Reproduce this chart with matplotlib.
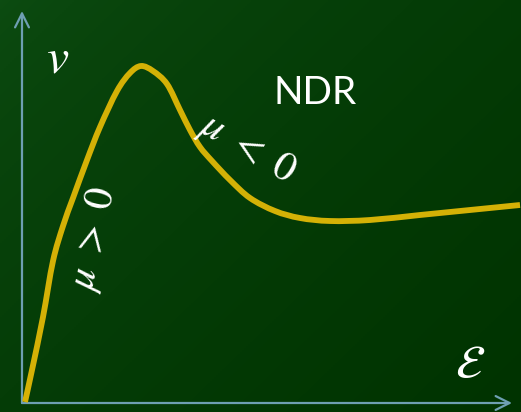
import numpy as np
import matplotlib
matplotlib.use("Agg")
import matplotlib.pyplot as plt
from matplotlib.path import Path
from matplotlib.patches import PathPatch

# Drift velocity v versus electric field E (arbitrary units)
field = [3, 10, 21, 31, 41, 51, 65, 78, 95, 108, 119, 131, 145, 158, 168, 178,
         190, 208, 228, 253, 278, 308, 348, 398, 448, 498]
velocity = [1, 33, 86, 142, 177, 205, 243, 276, 312, 330, 337, 332, 319, 293, 273,
            256, 242, 223, 205, 192, 185, 182, 183, 188, 193, 198]

label_v = r"$v$"
label_e = r"$\mathcal{E}$"
label_ndr = "NDR"
label_pos = r"$\mu\ >\ 0$"
label_neg = r"$\mu\ <\ 0$"

plt.rcParams["mathtext.fontset"] = "stix"

fig = plt.figure(figsize=(5.21, 4.12), dpi=100)
ax = fig.add_axes([0, 0, 1, 1])
ax.set_xlim(-22, 499)
ax.set_ylim(-9, 403)
ax.axis("off")

# diagonal dark-green gradient background
ny, nx = 200, 260
yy, xx = np.mgrid[0:1:ny * 1j, 0:1:nx * 1j]
t = np.clip(0.55 * xx + 0.45 * yy, 0, 1) ** 0.6
c0 = np.array([0.05, 0.30, 0.07])
c1 = np.array([0.0, 0.20, 0.0])
img = c0[None, None, :] * (1 - t[..., None]) + c1[None, None, :] * t[..., None]
ax.imshow(img, extent=[-22, 499, -9, 403], origin="upper", aspect="auto", zorder=0)

axis_col = "#6e9fb2"
arrow = dict(arrowstyle="->,head_length=1.0,head_width=0.5", color=axis_col, lw=1.6,
             shrinkA=0, shrinkB=0)
ax.annotate("", xy=(0, 392), xytext=(0, 0), arrowprops=arrow, zorder=2)
ax.annotate("", xy=(490, 0), xytext=(0, 0), arrowprops=arrow, zorder=2)

# smooth Bezier path through the points (Catmull-Rom style tangents)
P = np.column_stack([field, velocity]).astype(float)
Pext = np.vstack([P[0], P, P[-1]])
verts = [P[0]]
codes = [Path.MOVETO]
for i in range(1, len(Pext) - 2):
    p0, p1, p2, p3 = Pext[i - 1], Pext[i], Pext[i + 1], Pext[i + 2]
    verts += [p1 + (p2 - p0) / 6.0, p2 - (p3 - p1) / 6.0, p2]
    codes += [Path.CURVE4] * 3
ax.add_patch(PathPatch(Path(verts, codes), facecolor="none", edgecolor="#d4b106",
                       lw=4.2, capstyle="butt", joinstyle="round", zorder=3))

ax.text(36, 345, label_v, fontsize=36, color="white", ha="center", va="center",
        zorder=4)
ax.text(293, 310, label_ndr, fontsize=28, family="Lato", color="white",
        ha="center", va="center", zorder=4)
ax.text(225, 255, label_neg, fontsize=30, color="white", ha="center", va="center",
        rotation=-30, rotation_mode="anchor", zorder=4)
ax.text(71, 164, label_pos, fontsize=30, color="white", ha="center", va="center",
        rotation=78, rotation_mode="anchor", zorder=4)
ax.text(448, 38, label_e, fontsize=34, color="white", ha="center", va="center",
        zorder=4)

fig.savefig("out.png", dpi=100)
